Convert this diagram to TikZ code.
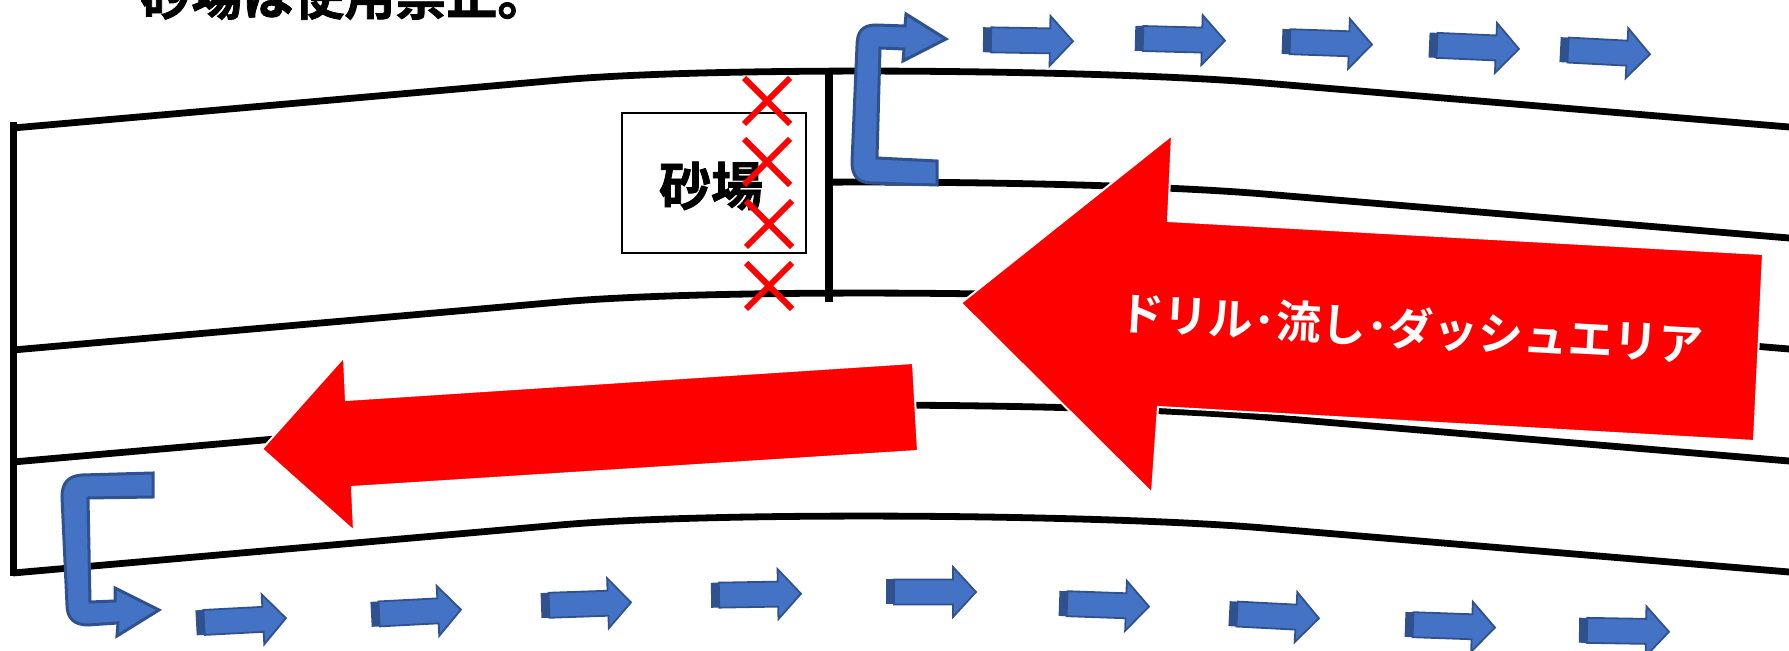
\documentclass[tikz,border=0pt]{standalone}
\usepackage{fontspec}
\newfontfamily\jp{Noto Sans CJK JP}[BoldFont={Noto Sans CJK JP Bold}]
\newfontfamily\jpheavy{Noto Sans CJK JP Bold}[FakeBold=1.5]
\definecolor{bluefill}{HTML}{4472C4}
\definecolor{blueedge}{HTML}{2F528F}
\definecolor{alertred}{HTML}{FF0000}

\tikzset{
  % small direction arrow with a darker band on its tail
  pics/flowarrow/.style={code={
    \fill[blueedge] (-45,-12.5) rectangle (-36,12.5);
    \filldraw[fill=bluefill,draw=blueedge,line width=0.9pt,line join=miter]
      (-37,-12.5) -- (22,-12.5) -- (22,-25) -- (45,0) -- (22,25) -- (22,12.5) -- (-37,12.5) -- cycle;
  }}
}

\begin{document}
\begin{tikzpicture}[x=0.5pt,y=-0.5pt,
  lane/.style={line width=3.4pt,black},
  post/.style={line width=3.5pt,black},
  bigpost/.style={line width=4pt,black},
  sandbox/.style={draw=black,line width=1.1pt,minimum width=92pt,minimum height=70pt,inner sep=0pt},
  xmark/.style={line width=3pt,alertred},
  redarrow/.style={fill=alertred,draw=white,line width=1pt,line join=miter},
  bent/.style={fill=bluefill,draw=blueedge,line width=1.5pt,line join=miter},
  heading/.style={font=\jpheavy\fontsize{25.5pt}{30pt}\selectfont,inner sep=0pt},
  boxlabel/.style={font=\jpheavy\fontsize{26pt}{30pt}\selectfont,inner sep=0pt},
  arrowtext/.style={font=\jp\bfseries\fontsize{22.5pt}{27pt}\selectfont,text=white,inner sep=0pt}
]
\useasboundingbox (0,0) rectangle (1789,651);
\clip (0,0) rectangle (1789,651);
\fill[white] (0,0) rectangle (1789,651);

% heading, cut by the top edge
\node[heading,anchor=base west] (heading) at (140,15) {砂場は使用禁止。};

% curved lane lines (copies of one track outline)
\foreach \dy in {0,222,334,445}
  \draw[lane] (13,128+\dy) -- (560,80+\dy) .. controls (720,66+\dy) and (1104,69.6+\dy) .. (1264,83+\dy) -- (1789,127+\dy) -- (1830,131+\dy);
\begin{scope}
  \clip (829,0) rectangle (1789,651);
  \draw[lane] (13,239) -- (560,191) .. controls (720,177) and (1104,180.6) .. (1264,194) -- (1789,238) -- (1830,242);
\end{scope}

% end posts
\draw[post] (13,122) -- (13,576);
\draw[bigpost] (829,71) -- (829,302);

% sandpit
\node[sandbox] (pit) at (714,183) {};
\node[boxlabel] (pitlabel) at (711,186) {砂場};

% closed marks
\foreach \cx/\cy in {767/101,767/162,769/224,769/286}
  \draw[xmark] (\cx-23,\cy-23) -- (\cx+23,\cy+23) (\cx-23,\cy+23) -- (\cx+23,\cy-23);

% drill area arrows
\filldraw[redarrow] (961,303) -- (1172,135) -- (1168,221) -- (1763,254) -- (1754,441) -- (1158,407) -- (1152,493) -- cycle;
\node[arrowtext,rotate=-3.2] (drill) at (1411,328) {ドリル･流し･ダッシュエリア};
\filldraw[redarrow] (262,449) -- (344,357) -- (346,400) -- (913,363) -- (918,451) -- (352,487) -- (354,531) -- cycle;

% bent arrows turning onto the outer lanes
\filldraw[bent] (937,161) -- (877,158) -- (880,48) -- (904,49) -- (903,61) -- (946,39) -- (906,14) -- (905,26) -- (876,25)
  .. controls (862,25) and (857,32) .. (857,46) -- (852,162) .. controls (852,176) and (858,183) .. (872,183) -- (937,185) -- cycle;
\filldraw[bent] (153,473) -- (82,475) .. controls (68,476) and (62,483) .. (62,497) -- (67,605)
  .. controls (67,618) and (74,625) .. (88,625) -- (118,623) -- (117,636) -- (159,610) -- (115,588) -- (115,601) -- (90,602) -- (88,498) -- (153,497) -- cycle;

% direction arrows along the top
\pic[rotate=-1] (t1) at (1028,40.5) {flowarrow};
\pic[rotate=-1.5] (t2) at (1180,39.5) {flowarrow};
\pic[rotate=-2] (t3) at (1327,43) {flowarrow};
\pic[rotate=-2.5] (t4) at (1474,47) {flowarrow};
\pic[rotate=-3] (t5) at (1605,52) {flowarrow};

% direction arrows along the bottom
\pic[rotate=3] (b1) at (241,620.5) {flowarrow};
\pic[rotate=3] (b2) at (416,612) {flowarrow};
\pic[rotate=2] (b3) at (586,604) {flowarrow};
\pic[rotate=1] (b4) at (756,594.5) {flowarrow};
\pic[rotate=0] (b5) at (931,592) {flowarrow};
\pic[rotate=-2] (b6) at (1104,605) {flowarrow};
\pic[rotate=-3] (b7) at (1274,616) {flowarrow};
\pic[rotate=-2] (b8) at (1450,626) {flowarrow};
\pic[rotate=-1] (b9) at (1624,631) {flowarrow};
\end{tikzpicture}
\end{document}
